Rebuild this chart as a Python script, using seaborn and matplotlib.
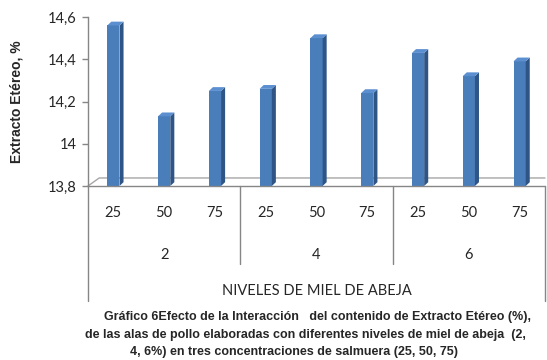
import pandas as pd
import seaborn as sns
import matplotlib.pyplot as plt
from matplotlib.patches import Polygon
from matplotlib.ticker import FuncFormatter

# Data
miel = ['2', '2', '2', '4', '4', '4', '6', '6', '6']
salmuera = ['25', '50', '75', '25', '50', '75', '25', '50', '75']
extracto = [14.56, 14.13, 14.25, 14.26, 14.50, 14.24, 14.43, 14.32, 14.39]
grupos = ['2', '4', '6']

df = pd.DataFrame({'miel': miel, 'salmuera': salmuera, 'extracto': extracto})
df['cat'] = df['miel'] + '-' + df['salmuera']

sns.set_style('white')
plt.rcParams['font.family'] = ['Lato', 'DejaVu Sans']

fig = plt.figure(figsize=(5.47, 3.6), dpi=100)
ax = fig.add_axes([88 / 547, 1 - 186 / 360, 457 / 547, 169 / 360])

front = '#4A7EBB'
side = '#2F5587'
top = '#5B8FD0'

sns.barplot(data=df, x='cat', y='extracto', color=front, width=0.24,
            saturation=1, ax=ax, errorbar=None)

ax.set_ylim(13.8, 14.6)
ax.set_xlim(-0.5, 8.5)

# pseudo 3D depth on every bar
dx, dy = 0.08, 0.018
for p in ax.patches[:]:
    x0 = p.get_x()
    w = p.get_width()
    h = p.get_height()
    p.set_edgecolor('none')
    ax.add_patch(Polygon([(x0 + w, 13.8), (x0 + w + dx, 13.8 + dy),
                          (x0 + w + dx, h + dy), (x0 + w, h)],
                         closed=True, facecolor=side, edgecolor='none'))
    ax.add_patch(Polygon([(x0, h), (x0 + dx, h + dy), (x0 + w + dx, h + dy),
                          (x0 + w, h)],
                         closed=True, facecolor=top, edgecolor='none'))

# floor
ax.plot([-0.5, -0.28, 8.5], [13.8, 13.8 + 0.038, 13.8 + 0.038],
        color='#A6A6A6', lw=1, clip_on=False, zorder=0)

for s in ['top', 'right', 'bottom']:
    ax.spines[s].set_visible(False)
ax.spines['left'].set_color('#868686')
ax.spines['left'].set_linewidth(1)

ax.set_yticks([13.8, 14.0, 14.2, 14.4, 14.6])
ax.yaxis.set_major_formatter(FuncFormatter(lambda v, _: f'{v:g}'.replace('.', ',')))
ax.tick_params(axis='y', which='major', left=True, length=4, width=1,
               color='#868686', labelsize=10.5, pad=4)
ax.set_xticks([])
ax.set_xlabel('')
ax.set_ylabel('Extracto Etéreo, %', fontsize=10, fontweight='bold',
              family=['Liberation Sans', 'DejaVu Sans'], labelpad=18)

# multilevel category axis
trans = ax.get_xaxis_transform()
for i, s in enumerate(salmuera):
    ax.text(i, -0.16, s, transform=trans, ha='center', va='center', fontsize=10.5)
for j, g in enumerate(grupos):
    ax.text(3 * j + 1, -0.41, g, transform=trans, ha='center', va='center', fontsize=10.5)
ax.plot([2.5, 2.5], [0, -0.46], transform=trans, color='#868686', lw=1, clip_on=False)
ax.plot([5.5, 5.5], [0, -0.46], transform=trans, color='#868686', lw=1, clip_on=False)
ax.plot([-0.5, -0.5], [0, -0.68], transform=trans, color='#868686', lw=1, clip_on=False)
ax.plot([8.5, 8.5], [0, -0.68], transform=trans, color='#868686', lw=1, clip_on=False)
ax.plot([-0.5, 8.5], [0, 0], transform=trans, color='#868686', lw=1, clip_on=False)

ax.text(4, -0.62, 'NIVELES DE MIEL DE ABEJA', transform=trans, ha='center',
        va='center', fontsize=10.5)

# caption, three lines as in the source document
cap_font = dict(fontsize=9, fontweight='bold',
                family=['Liberation Sans Narrow', 'Liberation Sans', 'DejaVu Sans'])
fig.text(318 / 547, 1 - 317 / 360,
         'Gráfico 6Efecto de la Interacción   del contenido de Extracto Etéreo (%),',
         ha='center', va='center', **cap_font)
fig.text(85 / 547, 1 - 335 / 360,
         'de las alas de pollo elaboradas con diferentes niveles de miel de abeja  (2,',
         ha='left', va='center', **cap_font)
fig.text(294 / 547, 1 - 352 / 360,
         '4, 6%) en tres concentraciones de salmuera (25, 50, 75)',
         ha='center', va='center', **cap_font)

fig.savefig('out.png', dpi=100)
